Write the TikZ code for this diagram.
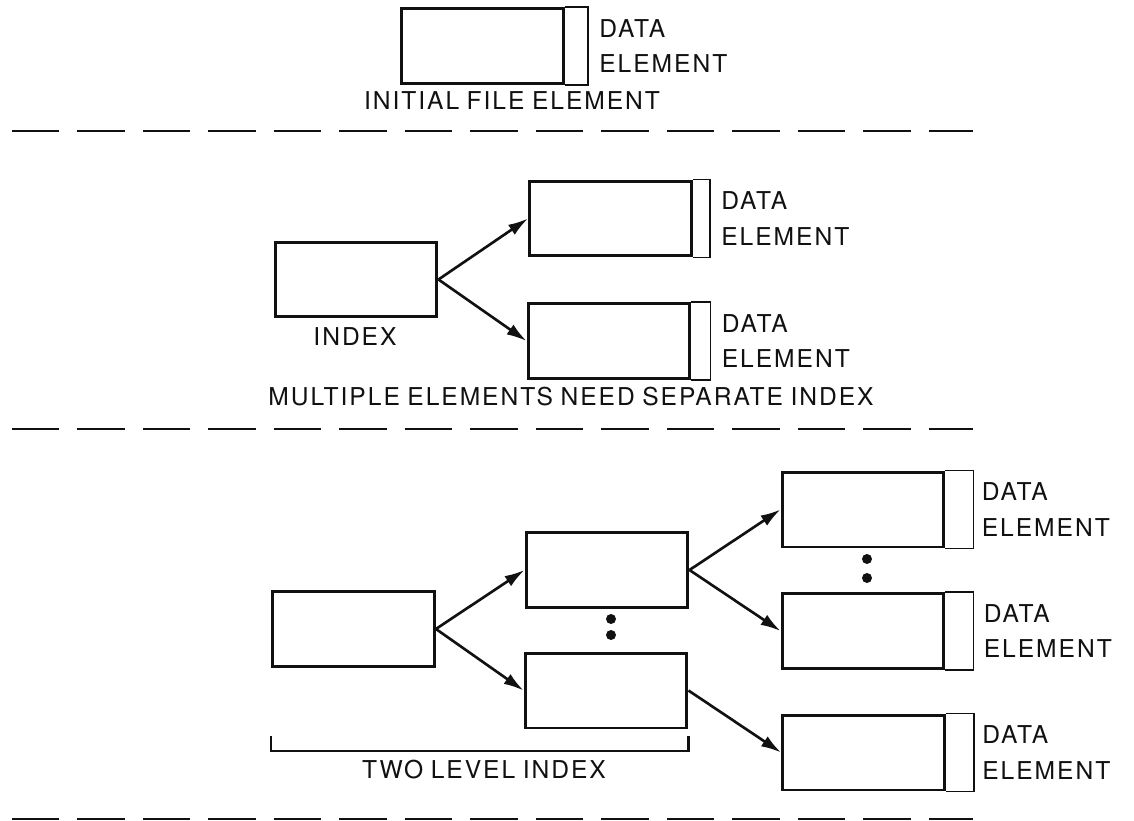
\documentclass[tikz,border=0pt]{standalone}
\usepackage{fontspec}
\setmainfont{TeX Gyre Heros}[LetterSpace=8,WordSpace=0.85]
\usepackage{tikz}
\usetikzlibrary{arrows.meta,positioning,calc}
\definecolor{ink}{HTML}{111111}
\tikzset{
  blk/.style={draw=ink,line width=1.7pt,minimum width=3.24cm,minimum height=1.5cm,inner sep=0pt},
  brk/.style={draw=ink,line width=1.1pt},
  link/.style={-{Latex[length=4mm,width=2.4mm]},line width=1.5pt,draw=ink},
  sep/.style={draw=ink,line width=1.6pt,dash pattern=on 0.95cm off 0.36cm},
  lbl/.style={font=\fontsize{14}{20}\selectfont,text=ink,inner sep=0pt},
  tag/.style={lbl,align=left,anchor=west},
  dot/.style={circle,fill=ink,inner sep=0pt,minimum size=0.2cm},
}
% bracket plus DATA ELEMENT label to the right of a box
\newcommand{\dataelem}[3]{%
  \draw[brk] (#1.north east) -- ++(#2,0) coordinate (#1b) |- (#1.south east);
  \node[tag] (#1t) at ($(#1b |- #1.east)+(#3,0)$) {DATA\\ELEMENT};}

\begin{document}
\begin{tikzpicture}[x=0.02cm,y=-0.02cm]
  \useasboundingbox (0,0) rectangle (1134,821);
  % initial file element
  \node[blk] (init) at (482.5,46) {};
  \dataelem{init}{23}{11}
  \node[lbl] (initl) at (512,101) {INITIAL FILE ELEMENT};
  \draw[sep] (12,131) -- (973,131);
  % multiple elements
  \node[blk] (idx) at (356,279.5) {};
  \node[lbl] (idxl) at (355,337) {INDEX};
  \node[blk] (da) at (610.5,218.5) {};
  \node[blk] (db) at (609,341) {};
  \dataelem{da}{17}{11}
  \dataelem{db}{19}{11}
  \draw[link] (idx.east) -- (da.west);
  \draw[link] (idx.east) -- (db.west);
  \node[lbl] (mull) at (571,397) {MULTIPLE ELEMENTS NEED SEPARATE INDEX};
  \draw[sep] (12,429) -- (973,429);
  % two level index
  \node[blk] (root) at (353.5,629) {};
  \node[blk] (mu) at (607,570) {};
  \node[blk] (ml) at (606,690.5) {};
  \node[dot] (m1) at (611,619) {};
  \node[dot] (m2) at (611,635) {};
  \node[blk] (ea) at (863,509.5) {};
  \node[blk] (eb) at (863,631) {};
  \node[blk] (ec) at (863.5,752.5) {};
  \node[dot] (e1) at (867,559) {};
  \node[dot] (e2) at (867,578) {};
  \dataelem{ea}{28}{8}
  \dataelem{eb}{28}{10}
  \dataelem{ec}{28}{8}
  \draw[link] (root.east) -- (mu.west);
  \draw[link] (root.east) -- (ml.west);
  \draw[link] (mu.east) -- (ea.west);
  \draw[link] (mu.east) -- (eb.west);
  \draw[link] (ml.east) -- (ec.west);
  \draw[brk,line width=1.4pt] ($(root.south west)+(0,68)$) -- ++(0,15) -| ($(ml.south east)+(0,7)$);
  \node[lbl] (twol) at (484,770) {TWO LEVEL INDEX};
  \draw[sep] (12,819) -- (973,819);
\end{tikzpicture}
\end{document}
